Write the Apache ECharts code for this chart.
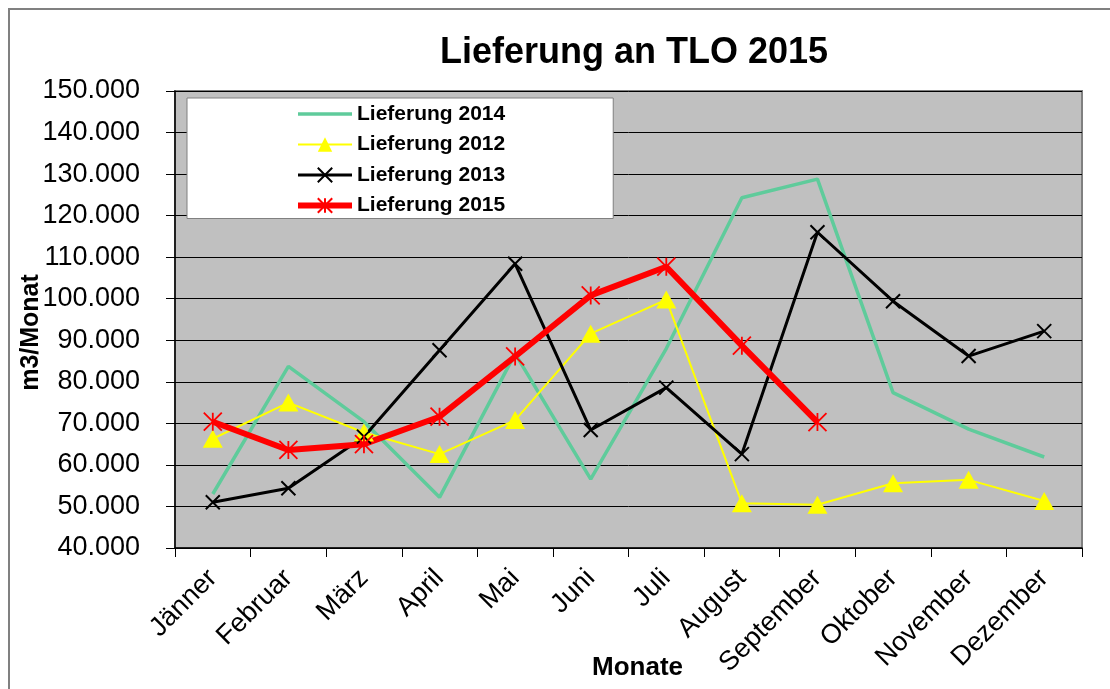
<!DOCTYPE html>
<html>
<head>
<meta charset="utf-8">
<script src="https://cdn.jsdelivr.net/npm/echarts@6/dist/echarts.min.js"></script>
<style>
  html, body { margin: 0; padding: 0; background: #fff; }
  #chart { width: 1110px; height: 689px; }
</style>
</head>
<body>
<div id="chart"></div>
<script>
// Monate
const months = ['Jänner', 'Februar', 'März', 'April', 'Mai', 'Juni', 'Juli', 'August', 'September', 'Oktober', 'November', 'Dezember']
// m3 pro Monat
const lief2014 = [53000, 83700, 70400, 52200, 86800, 56600, 88000, 124300, 128800, 77400, 68600, 61900]
const lief2012 = [66300, 75000, 67800, 62600, 70800, 91600, 99800, 50800, 50400, 55600, 56400, 51300]
const lief2013 = [51000, 54400, 66800, 87600, 108400, 68400, 78600, 62600, 116000, 99400, 86200, 92200]
const lief2015 = [70400, 63600, 65000, 71600, 86100, 100800, 107700, 88700, 70300, null, null, null]

const font = 'Liberation Sans, Arial, sans-serif'
const fmt = (v) => String(v).replace(/\B(?=(\d{3})+(?!\d))/g, '.')

const myChart = echarts.init(document.getElementById('chart'))
const option = {
  animation: false,
  textStyle: { fontFamily: font },
  title: {
    text: 'Lieferung an TLO 2015',
    left: 629,
    top: 30,
    textAlign: 'center',
    textStyle: { fontSize: 36, fontWeight: 'bold', color: '#000', fontFamily: font }
  },
  graphic: [
    {
      type: 'rect',
      shape: { x: 9, y: 9, width: 1200, height: 800 },
      style: { fill: 'none', stroke: '#808080', lineWidth: 2 },
      silent: true
    }
  ],
  legend: {
    orient: 'vertical',
    left: 187,
    top: 98,
    padding: [4, 108, 1, 108],
    backgroundColor: '#fff',
    borderColor: '#808080',
    borderWidth: 1,
    itemWidth: 54,
    itemHeight: 18,
    itemGap: 6.5,
    textStyle: { fontSize: 21, fontWeight: 'bold', color: '#000', lineHeight: 24, fontFamily: font },
    data: [
      { name: 'Lieferung 2014', itemStyle: { opacity: 0 }, lineStyle: { width: 3.5 } },
      { name: 'Lieferung 2012', lineStyle: { width: 2 } },
      { name: 'Lieferung 2013', lineStyle: { width: 3 } },
      { name: 'Lieferung 2015', lineStyle: { width: 6 } }
    ]
  },
  grid: {
    left: 175,
    right: 28,
    top: 91,
    bottom: 141,
    outerBoundsMode: 'none',
    show: true,
    backgroundColor: '#C0C0C0',
    borderColor: '#808080',
    borderWidth: 2
  },
  xAxis: {
    type: 'category',
    data: months,
    name: 'Monate',
    nameLocation: 'middle',
    nameGap: 107,
    nameMoveOverlap: false,
    nameTextStyle: { fontSize: 26, fontWeight: 'bold', color: '#000', padding: [0, 0, 0, 18] },
    axisLine: { lineStyle: { color: '#000', width: 1.5 } },
    axisTick: { show: true, length: 9, lineStyle: { color: '#000' } },
    axisLabel: { rotate: 45, fontSize: 27, color: '#000', margin: 26, interval: 0 }
  },
  yAxis: {
    type: 'value',
    min: 40000,
    max: 150000,
    interval: 10000,
    name: 'm3/Monat',
    nameLocation: 'middle',
    nameGap: 131,
    nameMoveOverlap: false,
    nameRotate: 90,
    nameTextStyle: { fontSize: 25, fontWeight: 'bold', color: '#000', padding: [0, 26, 0, 0] },
    axisLine: { show: true, lineStyle: { color: '#000', width: 1.5 } },
    axisTick: { show: true, length: 9, lineStyle: { color: '#000' } },
    axisLabel: { fontSize: 27, color: '#000', margin: 35, formatter: fmt },
    splitLine: { lineStyle: { color: '#000', width: 1 } }
  },
  series: [
    {
      name: 'Lieferung 2014',
      type: 'line',
      data: lief2014,
      symbol: 'none',
      color: '#5FCB9B',
      lineStyle: { color: '#5FCB9B', width: 3.5 }
    },
    {
      name: 'Lieferung 2012',
      type: 'line',
      data: lief2012,
      symbol: 'triangle',
      symbolSize: [20, 18],
      color: '#FFFF00',
      itemStyle: { color: '#FFFF00' },
      lineStyle: { color: '#FFFF00', width: 2 }
    },
    {
      name: 'Lieferung 2013',
      type: 'line',
      data: lief2013,
      symbol: 'path://M0,0L10,10M10,0L0,10',
      symbolSize: 14,
      color: '#000',
      itemStyle: { color: 'none', borderColor: '#000', borderWidth: 2 },
      lineStyle: { color: '#000', width: 3 }
    },
    {
      name: 'Lieferung 2015',
      type: 'line',
      data: lief2015,
      symbol: 'path://M0,0L10,10M10,0L0,10M5,0L5,10',
      symbolSize: 18,
      color: '#FF0000',
      itemStyle: { color: 'none', borderColor: '#FF0000', borderWidth: 1.8 },
      lineStyle: { color: '#FF0000', width: 6 }
    }
  ]
}
myChart.setOption(option)
</script>
</body>
</html>
